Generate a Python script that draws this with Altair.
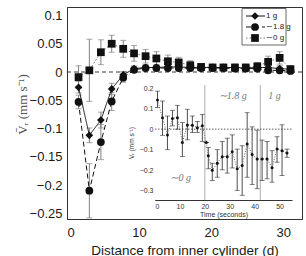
import altair as alt
import pandas as pd

# ---------------- main chart data ----------------
series_labels = ["1 g", "∼1.8 g", "∼0 g"]
dist = [1.6, 3.1, 4.7, 6.2, 7.8, 9.3, 10.9, 12.4, 14.0, 15.5,
        17.1, 18.6, 20.2, 21.7, 23.3, 24.8, 26.4, 27.9, 29.5, 31.0]
v_1g = [-0.027, -0.112, -0.085, -0.030, -0.005, 0.006, 0.008, 0.008, 0.009, 0.009,
        0.008, 0.008, 0.008, 0.008, 0.008, 0.007, 0.008, 0.008, 0.006, 0.005]
err_1g = [0.010, 0.013, 0.014, 0.010, 0.006, 0.005, 0.005, 0.005, 0.005, 0.005,
          0.005, 0.005, 0.005, 0.005, 0.005, 0.005, 0.005, 0.005, 0.005, 0.005]
v_18g = [-0.053, -0.210, -0.124, -0.052, -0.010, 0.004, 0.007, 0.007, 0.007, 0.007,
         0.007, 0.007, 0.007, 0.007, 0.006, 0.006, 0.006, 0.003, 0.003, 0.002]
err_18g = [0.012, 0.048, 0.031, 0.016, 0.008, 0.005, 0.005, 0.005, 0.005, 0.005,
           0.005, 0.005, 0.005, 0.005, 0.005, 0.005, 0.005, 0.005, 0.005, 0.005]
v_0g = [-0.009, 0.003, 0.035, 0.050, 0.041, 0.033, 0.028, 0.024, 0.019, 0.017,
        0.012, 0.009, 0.008, 0.008, 0.008, 0.008, 0.010, 0.018, 0.025, 0.005]
err_0g = [0.020, 0.055, 0.022, 0.015, 0.015, 0.014, 0.012, 0.012, 0.011, 0.009,
          0.008, 0.006, 0.006, 0.006, 0.006, 0.006, 0.007, 0.010, 0.011, 0.006]

# ---------------- inset data ----------------
time_s = [1, 3, 5, 7, 9, 11, 13, 15, 17, 19, 20.6, 21.4, 23, 25, 27, 29, 31, 33,
          35, 37, 39, 41, 43, 45, 47, 49, 51, 53]
vr_t = [0.142, 0.055, -0.028, 0.052, 0.056, -0.065, 0.020, 0.019, 0.007, 0.017,
        -0.065, -0.130, -0.200, -0.166, -0.134, -0.134, -0.110, -0.193, -0.177,
        -0.072, -0.124, -0.145, -0.145, -0.145, -0.188, -0.097, -0.105, -0.116]
vr_hi = [0.185, 0.137, 0.064, 0.092, 0.116, 0.032, 0.097, 0.064, 0.037, 0.072,
         -0.065, -0.089, -0.166, -0.100, -0.060, -0.044, -0.028, -0.097, -0.081,
         0.080, 0.011, -0.005, -0.053, -0.060, -0.105, -0.037, 0.021, -0.097]
vr_lo = [0.105, -0.030, -0.100, 0.016, 0.000, -0.134, -0.052, -0.016, -0.016, -0.060,
         -0.065, -0.193, -0.250, -0.234, -0.198, -0.214, -0.189, -0.298, -0.322,
         -0.234, -0.269, -0.290, -0.250, -0.242, -0.258, -0.161, -0.226, -0.137]
phase_lines = [20, 42.3]
phase_text = ["∼1.8 g", "1 g", "∼0 g"]
phase_t = [31.2, 48.0, 10.3]
phase_v = [0.160, 0.160, -0.240]

# ---------------- tables ----------------
rows = []
for lab, vals, errs in [(series_labels[2], v_0g, err_0g),
                        (series_labels[1], v_18g, err_18g),
                        (series_labels[0], v_1g, err_1g)]:
    for d, v, e in zip(dist, vals, errs):
        rows.append({"series": lab, "d": d, "v": v, "lo": v - e, "hi": v + e})
df_main = pd.DataFrame(rows)
df_zero = pd.DataFrame({"z": [0.0]})
df_leg = pd.DataFrame({"series": series_labels})
df_in = pd.DataFrame({"t": time_s, "v": vr_t, "lo": vr_lo, "hi": vr_hi})
df_phase = pd.DataFrame({"t": phase_lines})
df_ptext = pd.DataFrame({"t": phase_t, "v": phase_v, "label": phase_text})

# ---------------- scales / axes ----------------
X_MAIN = alt.Scale(domain=[0, 32.6], nice=False, zero=False)
Y_MAIN = alt.Scale(domain=[-0.26, 0.115], nice=False, zero=False)
X_AX = alt.Axis(values=[0, 10, 20, 30], title="Distance from inner cylinder (d)",
                grid=False, ticks=False, tickSize=0, labelFontSize=13, labelPadding=7,
                titleFontSize=13.5, titleFontWeight="normal", titlePadding=4,
                labelColor="#1a1a1a", titleColor="#1a1a1a", domainColor="#333")
Y_AX = alt.Axis(values=[-0.25, -0.2, -0.15, -0.1, -0.05, 0, 0.05, 0.1], format=".2~f",
                title="V̄ᵣ (mm s⁻¹)", grid=False, ticks=False, tickSize=0,
                labelFontSize=13, labelPadding=5, titleFont="Liberation Serif",
                titleFontSize=13, titleFontWeight="normal", titleColor="#555",
                titleX=-38, titleY=97, labelColor="#1a1a1a", domainColor="#333")

shape_sc = alt.Scale(domain=series_labels, range=["diamond", "circle", "square"])
dash_sc = alt.Scale(domain=series_labels, range=[[1, 0], [5, 3], [1.5, 2]])
col_sc = alt.Scale(domain=series_labels, range=["#111111", "#111111", "#777777"])
size_sc = alt.Scale(domain=series_labels, range=[60, 60, 45])

base = alt.Chart(df_main)
xm = alt.X("d:Q", scale=X_MAIN, axis=X_AX)

zero_line = alt.Chart(df_zero).mark_rule(strokeDash=[4, 3], color="#222", strokeWidth=0.9).encode(
    y=alt.Y("z:Q", scale=Y_MAIN, axis=Y_AX))
err_bars = base.mark_rule(color="#808080", strokeWidth=1).encode(
    x=xm, y=alt.Y("lo:Q", scale=Y_MAIN, axis=Y_AX), y2="hi:Q")
cap_lo = base.mark_tick(orient="horizontal", size=6, thickness=1, color="#808080").encode(
    x=xm, y=alt.Y("lo:Q", scale=Y_MAIN, axis=Y_AX))
cap_hi = base.mark_tick(orient="horizontal", size=6, thickness=1, color="#808080").encode(
    x=xm, y=alt.Y("hi:Q", scale=Y_MAIN, axis=Y_AX))
lines = base.mark_line(strokeWidth=1).encode(
    x=xm, y=alt.Y("v:Q", scale=Y_MAIN, axis=Y_AX),
    detail="series:N",
    strokeDash=alt.StrokeDash("series:N", scale=dash_sc, legend=None),
    color=alt.Color("series:N", scale=col_sc, legend=None))
points = base.mark_point(filled=True, opacity=1, color="#111").encode(
    x=xm, y=alt.Y("v:Q", scale=Y_MAIN, axis=Y_AX),
    shape=alt.Shape("series:N", scale=shape_sc, legend=None),
    size=alt.Size("series:N", scale=size_sc, legend=None))
main = alt.layer(zero_line, err_bars, cap_lo, cap_hi, lines, points)

# ---------------- legend (drawn) ----------------
LEG_Y = alt.Y("series:N", scale=alt.Scale(type="point", domain=series_labels,
                                          range=[9, 31], padding=0), axis=None)
leg_box = alt.Chart(df_zero).mark_rect(fill="white", stroke="#444", strokeWidth=0.8).encode(
    x=alt.value(175), x2=alt.value(219), y=alt.value(1.5), y2=alt.value(38))
leg_lines = alt.Chart(df_leg).mark_rule(strokeWidth=1).encode(
    x=alt.value(179), x2=alt.value(198), y=LEG_Y,
    strokeDash=alt.StrokeDash("series:N", scale=dash_sc, legend=None),
    color=alt.Color("series:N", scale=col_sc, legend=None))
leg_pts = alt.Chart(df_leg).mark_point(filled=True, opacity=1, color="#111").encode(
    x=alt.value(188), y=LEG_Y,
    shape=alt.Shape("series:N", scale=shape_sc, legend=None),
    size=alt.Size("series:N", scale=size_sc, legend=None))
leg_txt = alt.Chart(df_leg).mark_text(align="left", fontSize=8, color="#222").encode(
    x=alt.value(199), y=LEG_Y, text="series:N")
legend = alt.layer(leg_box, leg_lines, leg_pts, leg_txt)

# ---------------- inset ----------------
X_IN = alt.Scale(domain=[0, 55], range=[88, 225], nice=False, zero=False)
Y_IN = alt.Scale(domain=[-0.345, 0.215], range=[193, 78], nice=False, zero=False)
X_IN_AX = alt.Axis(orient="bottom", offset=-19, values=[0, 10, 20, 30, 40, 50],
                   title="Time (seconds)", grid=False, ticks=False, tickSize=0,
                   labelFontSize=7, labelPadding=2, titleFontSize=7,
                   titleFontWeight="normal", titlePadding=1, labelColor="#333",
                   titleColor="#333", domainColor="#333")
Y_IN_AX = alt.Axis(orient="left", offset=-88, values=[-0.3, -0.2, -0.1, 0, 0.1, 0.2],
                   format=".1~f", title="Vᵣ (mm s⁻¹)", grid=False, ticks=False,
                   tickSize=0, labelFontSize=7, labelPadding=2, titleFontSize=6.5,
                   titleFontWeight="normal", titlePadding=5, labelColor="#333",
                   titleColor="#333", domainColor="#333")
xi = alt.X("t:Q", scale=X_IN, axis=X_IN_AX)

in_bg = alt.Chart(df_zero).mark_rect(fill="white").encode(
    x=alt.value(88), x2=alt.value(225), y=alt.value(78), y2=alt.value(193))
in_phase = alt.Chart(df_phase).mark_rule(color="#c0c0c0", strokeWidth=1.3).encode(
    x=xi, y=alt.value(78), y2=alt.value(193))
in_zero = alt.Chart(df_zero).mark_rule(color="#333", strokeDash=[1.5, 1.5], strokeWidth=0.8).encode(
    x=alt.value(88), x2=alt.value(225), y=alt.Y("z:Q", scale=Y_IN, axis=Y_IN_AX))
in_err = alt.Chart(df_in).mark_rule(color="#222", strokeWidth=0.8).encode(
    x=xi, y=alt.Y("lo:Q", scale=Y_IN, axis=Y_IN_AX), y2="hi:Q")
in_cap_lo = alt.Chart(df_in).mark_tick(orient="horizontal", size=5, thickness=0.8, color="#222").encode(
    x=xi, y=alt.Y("lo:Q", scale=Y_IN, axis=Y_IN_AX))
in_cap_hi = alt.Chart(df_in).mark_tick(orient="horizontal", size=5, thickness=0.8, color="#222").encode(
    x=xi, y=alt.Y("hi:Q", scale=Y_IN, axis=Y_IN_AX))
in_line = alt.Chart(df_in).mark_line(color="#666", strokeDash=[1, 1.5], strokeWidth=1).encode(
    x=xi, y=alt.Y("v:Q", scale=Y_IN, axis=Y_IN_AX))
in_pts = alt.Chart(df_in).mark_circle(size=9, color="#111", opacity=1).encode(
    x=xi, y=alt.Y("v:Q", scale=Y_IN, axis=Y_IN_AX))
in_txt = alt.Chart(df_ptext).mark_text(font="Liberation Serif", fontStyle="italic",
                                       fontSize=10, color="#777").encode(
    x=xi, y=alt.Y("v:Q", scale=Y_IN, axis=Y_IN_AX), text="label:N")
inset = alt.layer(in_bg, in_phase, in_zero, in_err, in_cap_lo, in_cap_hi, in_line, in_pts, in_txt)

chart = alt.layer(main, inset, legend).resolve_scale(
    x="independent", y="independent"
).properties(
    width=235, height=212,
    autosize=alt.AutoSizeParams(type="none"),
    padding={"left": 67, "top": 7, "right": 4, "bottom": 37},
).configure(font="Liberation Sans").configure_view(stroke="#333", strokeWidth=1)

chart.save("out.html", embed_options={"renderer": "svg", "actions": False})
